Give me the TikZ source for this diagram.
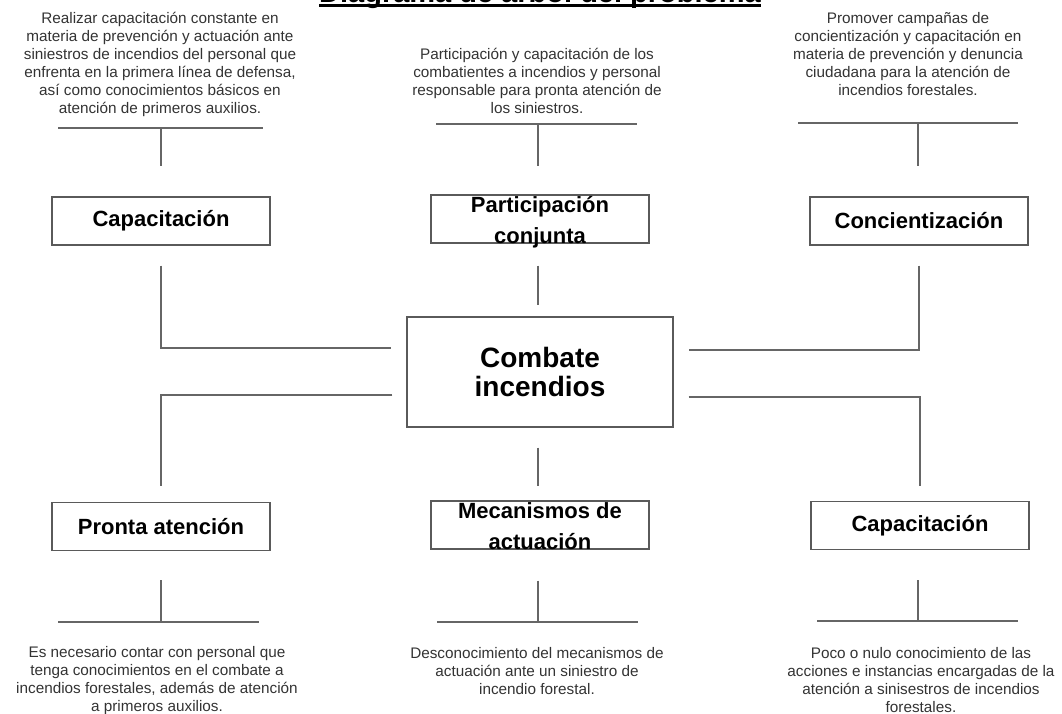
\documentclass[tikz,border=0pt]{standalone}
\usepackage{fontspec}
\setmainfont{Liberation Sans}
\usepackage{tikz}
\usetikzlibrary{positioning, arrows, shapes}
\definecolor{linegray}{HTML}{666666}
\definecolor{boxgray}{HTML}{5A5A5A}
\definecolor{notegray}{HTML}{333333}
\tikzstyle{cause} = [rectangle, draw=boxgray, line width=1.2pt, minimum width=218pt, minimum height=48pt, align=center, text=black, font=\fontsize{22}{31}\selectfont\bfseries]
\tikzstyle{core} = [rectangle, draw=boxgray, line width=1.2pt, minimum width=266pt, minimum height=110pt, align=center, text=black, font=\fontsize{28}{29}\selectfont\bfseries]
\tikzstyle{note} = [align=center, inner sep=0pt, anchor=north, text=notegray, font=\fontsize{15.3}{18}\selectfont]
\tikzstyle{line} = [draw=linegray, line width=1.2pt]

\begin{document}
\begin{tikzpicture}[x=1pt, y=-1pt, node distance=153pt]
        \useasboundingbox (0,0) rectangle (1062,713);
        \clip (0,0) rectangle (1062,713);

        % titulo
        \node (titulo) [anchor=base, inner sep=0pt, font=\fontsize{29}{33}\selectfont\bfseries] at (540,2.5) {Diagrama de árbol del problema};
        \draw [black, line width=2.5pt] ([yshift=-3pt]titulo.base west) -- ([yshift=-3pt]titulo.base east);

        % problema central
        \node (combate) [core] at (540,372) {Combate\\incendios};

        % fila superior
        \node (partic) [cause, above of=combate] {};
        \node [cause, draw=none] at ([yshift=-3.5pt]partic.center) {Participación\\conjunta};
        \node (capL) [cause, left of=partic, node distance=379pt, yshift=-2pt] {Capacitación};
        \node (conc) [cause, right of=partic, node distance=379pt, yshift=-2pt] {Concientización};

        % fila inferior
        \node (mecan) [cause, below of=combate] {};
        \node [cause, draw=none] at ([yshift=-1.5pt]mecan.center) {Mecanismos de\\actuación};
        \node (pronta) [cause, left of=mecan, node distance=379pt, yshift=-1.5pt] {Pronta atención};
        \node (capR) [cause, right of=mecan, node distance=380pt, yshift=-0.5pt] {Capacitación};

        % notas
        \node (notaTL) [note] at (160,12.5) {Realizar capacitación constante en\\materia de prevención y actuación ante\\siniestros de incendios del personal que\\enfrenta en la primera línea de defensa,\\así como conocimientos básicos en\\atención de primeros auxilios.};
        \node (notaTM) [note] at (537,48) {Participación y capacitación de los\\combatientes a incendios y personal\\responsable para pronta atención de\\los siniestros.};
        \node (notaTR) [note] at (908,12.5) {Promover campañas de\\concientización y capacitación en\\materia de prevención y denuncia\\ciudadana para la atención de\\incendios forestales.};
        \node (notaBL) [note] at (157,646) {Es necesario contar con personal que\\tenga conocimientos en el combate a\\incendios forestales, además de atención\\a primeros auxilios.};
        \node (notaBM) [note] at (537,647) {Desconocimiento del mecanismos de\\actuación ante un siniestro de\\incendio forestal.};
        \node (notaBR) [note] at (921,647) {Poco o nulo conocimiento de las\\acciones e instancias encargadas de la\\atención a sinisestros de incendios\\forestales.};

        % barras
        \coordinate (barTL) at (161,128);
        \coordinate (barTM) at (538,124);
        \coordinate (barTR) at (918,123);
        \coordinate (barBL) at (161,622);
        \coordinate (barBM) at (538,622);
        \coordinate (barBR) at (918,621);

        \draw [line] ([xshift=-103pt]barTL) -- ([xshift=102pt]barTL);
        \draw [line] ([xshift=-102pt]barTM) -- ([xshift=99pt]barTM);
        \draw [line] ([xshift=-120pt]barTR) -- ([xshift=100pt]barTR);
        \draw [line] ([xshift=-103pt]barBL) -- ([xshift=98pt]barBL);
        \draw [line] ([xshift=-101pt]barBM) -- ([xshift=100pt]barBM);
        \draw [line] ([xshift=-101pt]barBR) -- ([xshift=100pt]barBR);

        \draw [line] (barTL) -- ([yshift=30pt]capL.north);
        \draw [line] (barTM) -- ([yshift=28pt]partic.north -| barTM);
        \draw [line] (barTR) -- ([yshift=30pt]conc.north -| barTR);
        \draw [line] ([yshift=-29pt]pronta.south) -- (barBL);
        \draw [line] ([yshift=-31pt]mecan.south -| barBM) -- (barBM);
        \draw [line] ([yshift=-30pt]capR.south -| barBR) -- (barBR);

        % conexiones al centro
        \draw [line] ([yshift=-20pt]capL.south) |- ([xshift=-15pt,yshift=24pt]combate.west);
        \draw [line] ([yshift=-20pt]conc.south) |- ([xshift=15pt,yshift=22pt]combate.east);
        \draw [line] ([yshift=-22pt]partic.south -| barTM) -- ([yshift=11pt]combate.north -| barTM);
        \draw [line] ([xshift=-14pt,yshift=-23pt]combate.west) -| ([yshift=16pt]pronta.north);
        \draw [line] ([xshift=15pt,yshift=-25pt]combate.east) -| ([yshift=15pt]capR.north);
        \draw [line] ([yshift=-20pt]combate.south -| barBM) -- ([yshift=14pt]mecan.north -| barBM);

        \end{tikzpicture}
\end{document}
